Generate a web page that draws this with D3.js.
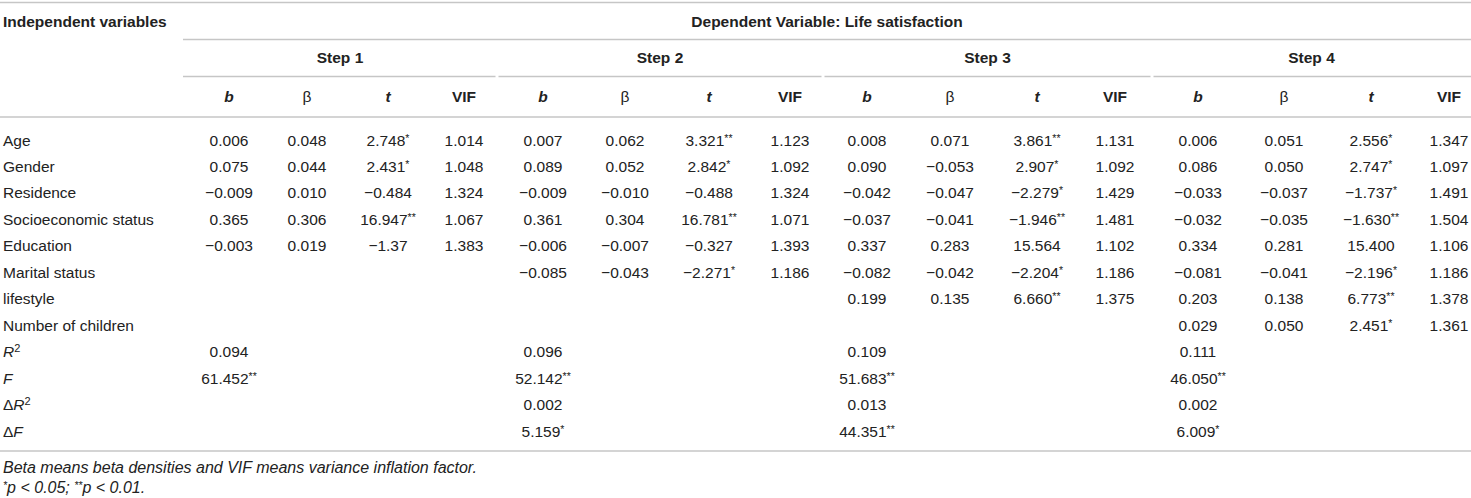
<!DOCTYPE html>
<html>
<head>
<meta charset="utf-8">
<script src="https://cdn.jsdelivr.net/npm/d3@7"></script>
<style>
    body { margin: 0; background: #fff; }
    svg text { font-family: "Liberation Sans", Arial, Helvetica, sans-serif; fill: #222; }
</style>
</head>
<body>
<script>
// table content
var stepNames = ["Step 1", "Step 2", "Step 3", "Step 4"];
var statHeads = ["b", "β", "t", "VIF"];
var rowLabels = ["Age", "Gender", "Residence", "Socioeconomic status", "Education",
    "Marital status", "lifestyle", "Number of children", "R2", "F", "ΔR2", "ΔF"];

// each row: b, beta, t, VIF (null = empty cell)
var step1 = [
    ["0.006", "0.048", "2.748*", "1.014"],
    ["0.075", "0.044", "2.431*", "1.048"],
    ["−0.009", "0.010", "−0.484", "1.324"],
    ["0.365", "0.306", "16.947**", "1.067"],
    ["−0.003", "0.019", "−1.37", "1.383"],
    [null, null, null, null],
    [null, null, null, null],
    [null, null, null, null],
    ["0.094", null, null, null],
    ["61.452**", null, null, null],
    [null, null, null, null],
    [null, null, null, null]
];
var step2 = [
    ["0.007", "0.062", "3.321**", "1.123"],
    ["0.089", "0.052", "2.842*", "1.092"],
    ["−0.009", "−0.010", "−0.488", "1.324"],
    ["0.361", "0.304", "16.781**", "1.071"],
    ["−0.006", "−0.007", "−0.327", "1.393"],
    ["−0.085", "−0.043", "−2.271*", "1.186"],
    [null, null, null, null],
    [null, null, null, null],
    ["0.096", null, null, null],
    ["52.142**", null, null, null],
    ["0.002", null, null, null],
    ["5.159*", null, null, null]
];
var step3 = [
    ["0.008", "0.071", "3.861**", "1.131"],
    ["0.090", "−0.053", "2.907*", "1.092"],
    ["−0.042", "−0.047", "−2.279*", "1.429"],
    ["−0.037", "−0.041", "−1.946**", "1.481"],
    ["0.337", "0.283", "15.564", "1.102"],
    ["−0.082", "−0.042", "−2.204*", "1.186"],
    ["0.199", "0.135", "6.660**", "1.375"],
    [null, null, null, null],
    ["0.109", null, null, null],
    ["51.683**", null, null, null],
    ["0.013", null, null, null],
    ["44.351**", null, null, null]
];
var step4 = [
    ["0.006", "0.051", "2.556*", "1.347"],
    ["0.086", "0.050", "2.747*", "1.097"],
    ["−0.033", "−0.037", "−1.737*", "1.491"],
    ["−0.032", "−0.035", "−1.630**", "1.504"],
    ["0.334", "0.281", "15.400", "1.106"],
    ["−0.081", "−0.041", "−2.196*", "1.186"],
    ["0.203", "0.138", "6.773**", "1.378"],
    ["0.029", "0.050", "2.451*", "1.361"],
    ["0.111", null, null, null],
    ["46.050**", null, null, null],
    ["0.002", null, null, null],
    ["6.009*", null, null, null]
];
var stepValues = [step1, step2, step3, step4];
var notes = ["Beta means beta densities and VIF means variance inflation factor.",
    "*p < 0.05; **p < 0.01."];

// layout
var width = 1471, height = 498;
var fs = 15.5;
var stepEdges = [183, 497, 823, 1152, 1471];
var colCenters = [229, 307, 388, 464, 543, 625, 709, 790, 867, 950, 1037, 1115, 1198, 1284, 1371, 1449];
var lineColor = "#c6c6c6";

var svg = d3.select("body").append("svg")
    .attr("width", width)
    .attr("height", height);

var colKeys = [];
stepNames.forEach(function(s, si) {
    statHeads.forEach(function(h, hi) { colKeys.push(si + "-" + hi); });
});
var x = d3.scaleOrdinal().domain(colKeys).range(colCenters);
var stepX = d3.scaleOrdinal().domain(stepNames).range(stepEdges.slice(0, 4));
var y = d3.scalePoint().domain(rowLabels).range([140, 431]);

function hline(x1, x2, yy) {
    svg.append("line")
        .attr("x1", x1).attr("x2", x2)
        .attr("y1", yy).attr("y2", yy)
        .attr("stroke", lineColor)
        .attr("stroke-width", 1.6);
}

// rules
hline(0, width, 2.5);
hline(183, width, 39.5);
stepNames.forEach(function(s, i) {
    hline(stepX(s) + (i > 0 ? 1.5 : 0), stepEdges[i + 1] - (i < 3 ? 1.5 : 0), 76.5);
});
hline(0, width, 117);
hline(0, width, 451);

// header
svg.append("text").attr("x", 3).attr("y", 27)
    .attr("font-size", fs).attr("font-weight", "bold")
    .text("Independent variables");
svg.append("text").attr("x", (183 + width) / 2).attr("y", 27)
    .attr("font-size", fs).attr("font-weight", "bold").attr("text-anchor", "middle")
    .text("Dependent Variable: Life satisfaction");

svg.selectAll("text.step").data(stepNames).enter().append("text")
    .attr("class", "step")
    .attr("x", function(d, i) { return (stepEdges[i] + stepEdges[i + 1]) / 2; })
    .attr("y", 63)
    .attr("font-size", fs).attr("font-weight", "bold").attr("text-anchor", "middle")
    .text(function(d) { return d; });

svg.selectAll("text.head").data(colKeys).enter().append("text")
    .attr("class", "head")
    .attr("x", function(d) { return x(d); })
    .attr("y", 102)
    .attr("font-size", fs).attr("text-anchor", "middle")
    .attr("font-weight", function(d) { return statHeads[+d.split("-")[1]] == "β" ? "normal" : "bold"; })
    .attr("font-style", function(d) {
        var h = statHeads[+d.split("-")[1]];
        return (h == "b" || h == "t") ? "italic" : "normal";
    })
    .text(function(d) { return statHeads[+d.split("-")[1]]; });

// row labels
svg.selectAll("text.lab").data(rowLabels).enter().append("text")
    .attr("class", "lab")
    .attr("x", 3)
    .attr("y", function(d) { return y(d) + 5.5; })
    .attr("font-size", fs)
    .each(function(d) {
        var t = d3.select(this);
        var m = d.match(/^(Δ?)([RF])(2?)$/);
        if (!m) { t.text(d); return; }
        if (m[1]) t.append("tspan").text(m[1]);
        t.append("tspan").attr("font-style", "italic").text(m[2]);
        if (m[3]) t.append("tspan").attr("font-size", 11).attr("dy", -5).text(m[3]);
    });

// cells
var cells = [];
stepValues.forEach(function(rows, si) {
    rows.forEach(function(r, ri) {
        r.forEach(function(v, ci) {
            if (v != null) cells.push({ v: v, key: si + "-" + ci, row: rowLabels[ri] });
        });
    });
});

svg.selectAll("text.cell").data(cells).enter().append("text")
    .attr("class", "cell")
    .attr("x", function(d) { return x(d.key); })
    .attr("y", function(d) { return y(d.row) + 5.5; })
    .attr("font-size", fs).attr("text-anchor", "middle")
    .each(function(d) {
        var t = d3.select(this);
        var m = d.v.match(/^(.*?)(\*+)$/);
        if (!m) { t.text(d.v); return; }
        t.append("tspan").text(m[1]);
        t.append("tspan").attr("font-size", 10.5).attr("dy", -4).text(m[2]);
    });

// notes
svg.append("text").attr("x", 3).attr("y", 473)
    .attr("font-size", 16).attr("font-style", "italic")
    .text(notes[0]);
var n2 = svg.append("text").attr("x", 3).attr("y", 493)
    .attr("font-size", 16).attr("font-style", "italic");
notes[1].split(/(\*+)/).forEach(function(part) {
    if (part == "") return;
    if (/^\*+$/.test(part)) {
        n2.append("tspan").attr("font-size", 10.5).attr("dy", -4).text(part);
    } else {
        var sp = n2.append("tspan").text(part);
        if (n2.selectAll("tspan").size() > 1) sp.attr("dy", 4);
    }
});
</script>
</body>
</html>
